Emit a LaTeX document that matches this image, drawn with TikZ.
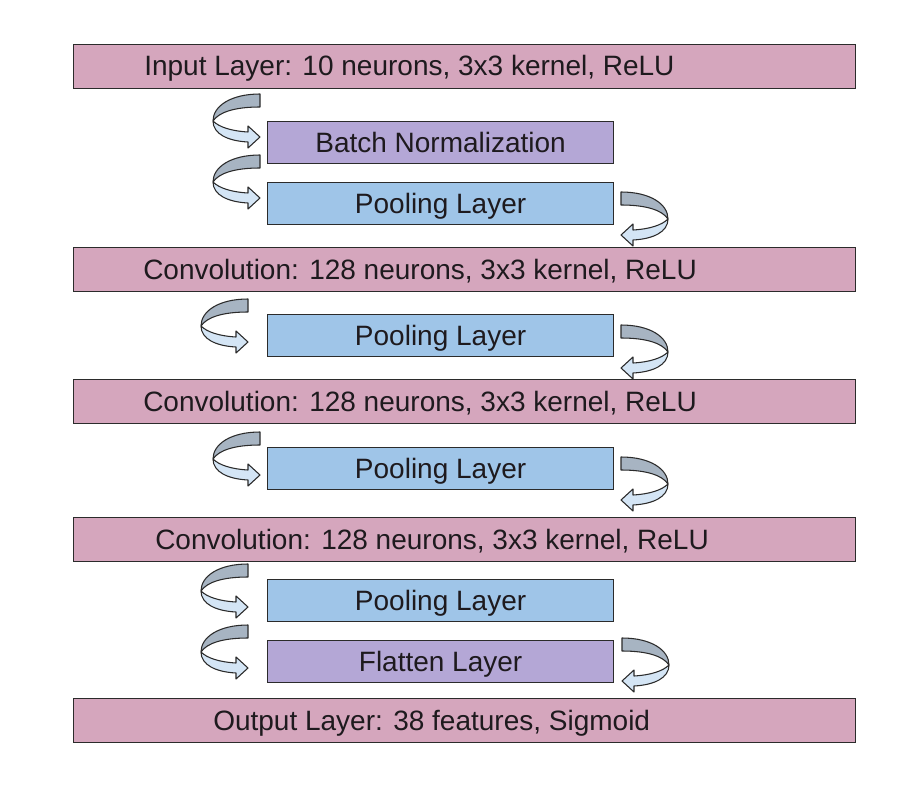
\documentclass[tikz,border=0pt]{standalone}
\usepackage{fontspec}
\setmainfont{Liberation Sans}
\definecolor{pinkf}{HTML}{D5A6BD}
\definecolor{purplef}{HTML}{B4A7D6}
\definecolor{bluef}{HTML}{9FC5E8}
\definecolor{arrdark}{HTML}{A7B4C2}
\definecolor{arrlight}{HTML}{D4E5F5}
\definecolor{edgec}{HTML}{2B2B2B}
\definecolor{txtc}{HTML}{1E1A1E}
\begin{document}
\begin{tikzpicture}[x=0.75pt,y=-0.75pt,
  layerbox/.style={draw=edgec, line width=0.9pt, fill=pinkf, anchor=north west,
    minimum width=586.5pt, minimum height=33pt, inner sep=0pt},
  layertxt/.style={anchor=west, inner sep=0pt, text=txtc,
    font=\fontsize{21pt}{25pt}\selectfont, text height=15pt, text depth=0pt},
  innerbox/.style={draw=edgec, line width=0.9pt, anchor=north west,
    minimum width=259.5pt, minimum height=31.5pt, inner sep=0pt, text=txtc,
    font=\fontsize{21pt}{25pt}\selectfont, text height=15pt, text depth=0pt},
  purplebox/.style={innerbox, fill=purplef},
  bluebox/.style={innerbox, fill=bluef},
  curv/.pic={
    \filldraw[fill=arrdark, draw=edgec, line width=0.8pt, line join=round]
      (47,0) .. controls (18,0) and (0,12) .. (0,27)
      .. controls (6,18) and (22,13) .. (47,13) -- cycle;
    \filldraw[fill=arrlight, draw=edgec, line width=0.8pt, line join=round]
      (0,27) .. controls (0,40) and (15,47) .. (35,48) -- (35,54) -- (47,43)
      -- (35,32) -- (35,38) .. controls (18,37) and (6,33) .. (0,27) -- cycle;
  }]
\useasboundingbox[fill=white] (0,0) rectangle (920,795);

% main layers
\node[layerbox] (inp) at (73,44) {};
\node[layertxt] (inpt) at (144,65.5) {Input Layer: 10 neurons, 3x3 kernel, ReLU};
\node[layerbox] (c1) at (73,247) {};
\node[layertxt] (c1t) at (143,269) {Convolution: 128 neurons, 3x3 kernel, ReLU};
\node[layerbox] (c2) at (73,379) {};
\node[layertxt] (c2t) at (143,401) {Convolution: 128 neurons, 3x3 kernel, ReLU};
\node[layerbox] (c3) at (73,517) {};
\node[layertxt] (c3t) at (155,539) {Convolution: 128 neurons, 3x3 kernel, ReLU};
\node[layerbox] (out) at (73,698) {};
\node[layertxt] (outt) at (213,720) {Output Layer: 38 features, Sigmoid};

% inner boxes
\node[purplebox] (bn) at (267,121) {Batch Normalization};
\node[bluebox] (p1) at (267,182) {Pooling Layer};
\node[bluebox] (p2) at (267,314) {Pooling Layer};
\node[bluebox] (p3) at (267,447) {Pooling Layer};
\node[bluebox] (p4) at (267,579) {Pooling Layer};
\node[purplebox] (fl) at (267,640) {Flatten Layer};

% curved arrows on the left
\pic at (213,94) {curv};
\pic at (213,155) {curv};
\pic at (201,299) {curv};
\pic at (213,432) {curv};
\pic at (201,564) {curv};
\pic at (201,625) {curv};

% curved arrows on the right (mirrored)
\pic[xscale=-1] at (668,192) {curv};
\pic[xscale=-1] at (668,325) {curv};
\pic[xscale=-1] at (668,457) {curv};
\pic[xscale=-1] at (669,638) {curv};
\end{tikzpicture}
\end{document}
